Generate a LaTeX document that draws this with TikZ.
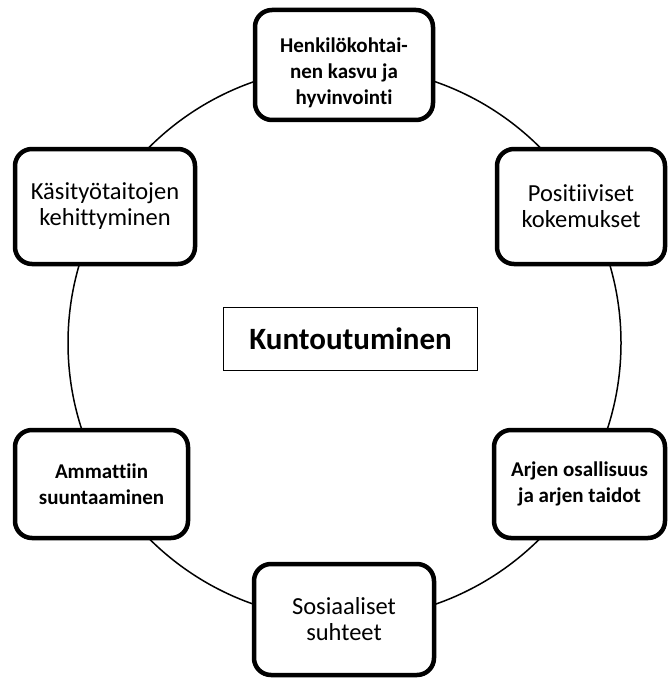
\documentclass[tikz,border=0pt]{standalone}
\usepackage{fontspec}
\setmainfont{Carlito}[Ligatures=NoCommon]

\begin{document}
\begin{tikzpicture}[x=1pt,y=-1pt]
                \tikzstyle{osa}=[draw, line width=4.5pt, rounded corners=17pt, fill=white, align=center, inner sep=0pt, font=\fontsize{24.5}{26}\selectfont]
                \tikzstyle{osab}=[osa, font=\fontsize{21}{26}\selectfont\bfseries]
                \useasboundingbox (0,0) rectangle (668,682);
                \coordinate (keski) at (344.5,343);
                \draw [line width=1.5pt] (keski) circle (276.5);
                \node (kasvu) at (344,65) [osab, minimum width=178, minimum height=110]{\rule{0pt}{30pt}Henkilökohtai-\\nen kasvu ja\\hyvinvointi};
                \node (positiivi) at (581,206.5) [osa, minimum width=168, minimum height=115]{Positiiviset\\kokemukset};
                \node (arki) at (579.5,484) [osab, minimum width=171, minimum height=108]{Arjen osallisuus\\ja arjen taidot};
                \node (sosiaali) at (344,619.5) [osa, minimum width=180, minimum height=111]{Sosiaaliset\\suhteet};
                \node (ammatti) at (101.5,484) [osab, minimum width=173, minimum height=108]{Ammattiin\\suuntaaminen};
                \node (kasityo) at (105,206.5) [osa, minimum width=180, minimum height=115]{Käsityötaitojen\\kehittyminen};
                \node (kuntoutus) at (350.5,339) [draw, line width=1.2pt, fill=white, minimum width=254, minimum height=63, font=\fontsize{31}{36}\selectfont\bfseries]{Kuntoutuminen};
            \end{tikzpicture}
\end{document}
